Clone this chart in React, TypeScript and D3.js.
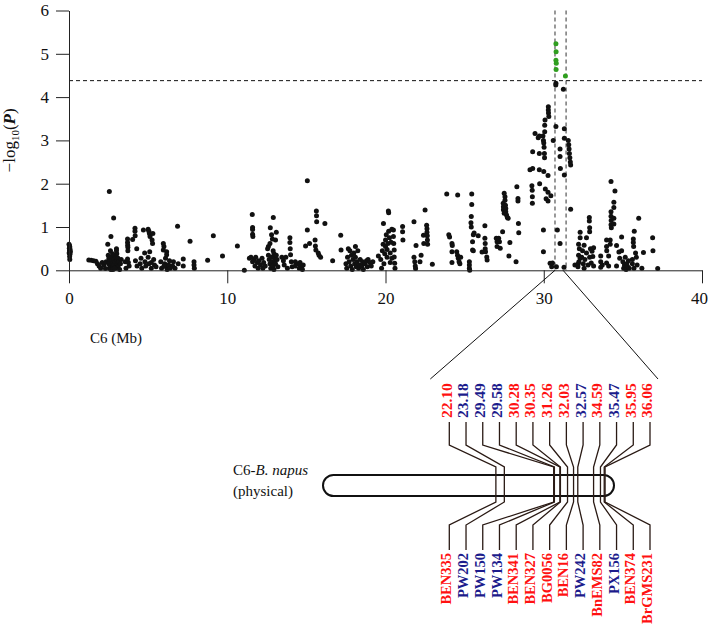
import { useEffect, useRef } from 'react';
import * as d3 from 'd3';

// Manhattan plot, chromosome C6
const xTicks = [0, 10, 20, 30, 40];
const yTicks = [0, 1, 2, 3, 4, 5, 6];
const threshold = 4.38;
const peakInterval = [30.71, 31.41];

// [position (Mb), -log10(P)]
const snps0to10: [number, number][] = [
  [0, 0.6], [0.03, 0.57], [0.05, 0.54], [0.02, 0.51], [0.07, 0.48], [0.03, 0.45], [0.09, 0.43], [0.01, 0.4], [0.06, 0.37], [0.04, 0.32], [0.05, 0.25],
  [1.25, 0.24], [1.4, 0.23], [1.55, 0.22], [1.7, 0.21], [1.8, 0.15], [1.9, 0.1], [2.0, 0.05], [2.1, 0.18], [2.2, 0.12], [2.3, 0.04], [2.35, 0.2],
  [2.45, 0.6], [2.55, 1.82], [2.65, 0.78], [2.82, 1.21], [2.48, 0.35], [2.52, 0.28], [2.58, 0.2], [2.5, 0.15], [2.6, 0.1], [2.55, 0.05], [2.65, 0.02],
  [2.68, 0.3], [2.7, 0.22], [2.75, 0.15], [2.8, 0.08], [2.85, 0.25], [2.85, 0.12], [2.9, 0.35], [2.92, 0.2], [2.95, 0.05], [3.0, 0.5], [3.0, 0.45],
  [3.02, 0.38], [3.0, 0.3], [3.05, 0.22], [3.06, 0.14], [3.1, 0.28], [3.1, 0.08], [3.15, 0.2], [3.2, 0.02], [3.25, 0.15], [3.3, 0.25], [2.62, 0.45],
  [2.75, 0.38], [2.78, 0.02], [2.88, 0.05],
  [3.55, 0.2], [3.6, 0.05], [3.7, 0.72], [3.7, 0.64], [3.71, 0.58], [3.72, 0.53], [3.72, 0.45], [3.7, 0.26], [3.75, 0.18], [3.8, 0.1], [4.02, 0.71],
  [4.17, 0.97], [4.17, 0.9], [4.18, 0.8], [4.28, 0.5], [4.2, 0.22], [4.3, 0.1],
  [4.5, 0.15], [4.55, 0.28], [4.6, 0.05], [4.7, 0.93], [4.78, 0.4], [4.8, 0.2], [4.85, 0.1], [5.0, 0.95], [5.05, 0.9], [5.08, 0.85], [5.12, 0.78],
  [5.1, 0.43], [5.0, 0.3], [5.05, 0.15], [5.2, 0.05], [5.25, 0.7], [5.28, 0.62], [5.3, 0.85], [5.35, 0.25], [5.4, 0.12], [5.5, 0.08], [5.2, 0.18],
  [5.8, 0.2], [5.85, 0.05], [5.96, 0.62], [5.96, 0.47], [6.0, 0.55], [6.05, 0.15], [6.1, 0.28], [6.15, 0.08], [6.17, 0.43], [6.17, 0.36], [6.2, 0.02],
  [6.3, 0.12], [6.35, 0.22], [6.4, 0.05], [6.0, 0.1],
  [6.55, 0.1], [6.6, 0.2], [6.7, 0.05], [6.86, 1.02], [6.9, 0.15], [7.22, 0.26], [7.22, 0.1], [7.65, 0.67], [7.9, 0.2], [7.9, 0.12], [7.92, 0.05],
  [8.76, 0.23], [9.12, 0.8], [9.7, 0.33],
];

const snps10to20: [number, number][] = [
  [10.64, 0.56], [11.08, 0.0], [11.58, 1.29], [11.6, 0.99], [11.6, 0.94], [11.6, 0.83], [11.62, 0.78], [11.4, 0.28], [11.5, 0.3], [11.6, 0.2],
  [11.7, 0.25], [11.75, 0.1], [11.8, 0.3], [11.9, 0.18], [11.95, 0.05], [12.0, 0.22], [12.1, 0.12], [12.2, 0.28], [12.25, 0.05], [12.3, 0.18], [12.4, 0.1],
  [12.55, 0.5], [12.6, 0.55], [12.7, 0.62], [12.72, 0.98], [12.8, 0.82], [12.91, 1.22], [12.85, 0.72], [13.1, 0.88], [13.05, 0.7], [12.9, 0.45],
  [12.95, 0.38], [13.0, 0.3], [12.6, 0.35], [12.65, 0.25], [12.7, 0.15], [12.75, 0.05], [12.8, 0.3], [12.85, 0.2], [12.9, 0.1], [12.95, 0.02],
  [13.0, 0.22], [13.05, 0.15], [13.1, 0.35], [13.15, 0.25], [13.2, 0.08],
  [13.45, 0.3], [13.55, 0.22], [13.6, 0.12], [13.7, 0.3], [13.8, 0.05], [13.96, 0.75], [13.96, 0.64], [13.98, 0.5], [14.0, 0.36], [14.05, 0.2],
  [14.1, 0.08], [14.3, 0.1], [14.3, 0.2], [14.5, 0.15], [14.55, 0.05], [14.6, 0.18], [14.7, 0.08], [14.75, 0.02], [14.8, 0.12],
  [14.95, 0.56], [15.06, 2.07], [15.06, 0.93], [15.2, 0.62], [15.55, 0.7], [15.57, 0.56], [15.6, 0.47], [15.63, 1.37], [15.64, 1.26], [15.65, 1.12],
  [15.75, 0.4], [15.8, 0.35], [15.9, 0.3], [16.17, 1.08], [16.66, 0.22], [17.17, 0.81], [17.19, 0.47],
  [17.5, 0.15], [17.55, 0.05], [17.6, 0.3], [17.65, 0.5], [17.7, 0.2], [17.75, 0.45], [17.8, 0.1], [17.85, 0.35], [17.9, 0.02], [17.95, 0.25],
  [18.0, 0.4], [18.05, 0.15], [18.1, 0.55], [18.1, 0.3], [18.15, 0.08], [18.2, 0.2], [18.25, 0.45], [18.3, 0.05], [18.35, 0.12], [18.4, 0.25],
  [18.5, 0.1], [18.55, 0.2], [18.6, 0.02], [18.7, 0.15], [18.8, 0.22], [18.85, 0.08], [18.9, 0.25], [19.0, 0.18], [19.1, 0.1], [19.2, 0.2],
  [19.55, 0.33], [19.7, 0.25], [19.75, 0.05], [19.8, 0.45], [19.85, 0.6], [19.87, 1.08], [19.9, 0.15], [19.95, 0.38], [20.0, 0.7], [20.0, 0.55],
  [20.05, 0.82], [20.1, 0.3], [20.1, 0.48], [20.15, 0.62], [20.18, 1.37], [20.2, 1.33], [20.2, 0.9], [20.25, 0.75], [20.3, 0.4], [20.3, 0.18],
  [20.35, 0.65], [20.4, 0.95], [20.4, 0.28],
];

const snps20to30: [number, number][] = [
  [20.5, 0.93], [20.5, 0.78], [20.52, 0.62], [20.55, 0.47], [20.55, 0.31], [20.58, 0.16], [20.6, 0.05],
  [21.08, 1.01], [21.08, 0.89], [21.1, 0.7], [21.8, 1.12], [21.93, 0.57], [21.8, 0.3], [21.85, 0.2], [21.88, 0.1], [21.9, 0.04], [22.18, 0.2],
  [22.25, 0.35], [22.4, 0.81], [22.42, 0.62], [22.5, 1.39], [22.6, 1.04], [22.62, 0.96], [22.62, 0.88], [22.64, 0.8], [22.65, 0.7], [22.66, 0.6], [22.96, 0.14],
  [23.87, 1.76], [24.0, 0.82], [24.05, 0.77], [24.2, 0.62], [24.22, 0.57], [24.2, 0.43], [24.2, 0.18], [24.5, 0.43], [24.55, 0.35], [24.56, 1.74],
  [24.6, 0.28], [24.65, 0.2], [24.7, 0.15], [24.75, 0.3],
  [25.3, 0.2], [25.3, 0.12], [25.3, 0.05], [25.32, 0.0], [25.45, 1.76], [25.45, 1.52], [25.42, 1.24], [25.4, 1.1], [25.42, 1.0], [25.6, 0.86],
  [25.55, 0.82], [25.5, 0.66], [25.5, 0.47], [25.55, 0.45], [25.86, 0.8], [26.1, 0.42], [26.28, 1.03], [26.28, 0.74], [26.3, 0.62], [26.3, 0.5],
  [26.32, 0.43], [26.4, 0.31], [26.42, 0.24],
  [27.0, 0.74], [27.05, 0.66], [27.05, 0.55], [27.15, 0.74], [27.2, 0.66], [27.25, 0.51], [27.4, 0.89], [27.44, 1.55], [27.45, 1.47], [27.45, 1.4],
  [27.5, 1.32], [27.5, 1.78], [27.55, 1.7], [27.55, 1.62], [27.58, 1.5], [27.6, 1.43], [27.6, 1.35], [27.65, 1.28], [27.7, 1.22], [27.75, 1.2],
  [27.86, 0.64], [27.8, 0.33], [28.25, 0.2], [28.3, 1.93], [28.37, 1.66], [28.37, 1.6], [28.4, 1.08], [28.42, 0.87],
  [29.13, 2.32], [29.3, 2.74], [29.25, 1.95], [29.27, 1.85], [29.28, 1.7], [29.28, 1.55], [29.3, 2.35], [29.45, 3.16], [29.65, 3.06], [29.72, 3.1],
  [29.72, 2.7], [29.72, 2.32], [29.74, 2.0], [29.98, 0.93], [29.98, 0.43], [29.95, 3.1], [29.98, 3.0], [30.0, 2.94], [30.02, 2.84], [30.04, 2.7],
  [30.05, 2.6], [30.06, 3.2], [30.06, 3.35], [30.08, 3.47], [30.0, 2.28], [30.1, 1.88], [30.15, 1.65], [30.29, 3.78], [30.29, 3.7], [30.3, 3.63],
  [30.32, 3.55], [30.27, 2.19], [30.27, 1.8], [30.27, 1.6], [30.45, 1.72], [30.4, 0.16], [30.5, 0.08], [30.55, 0.17], [30.6, 3.0],
];

const snps30to38: [number, number][] = [
  [30.77, 4.32], [30.76, 4.28], [31.24, 4.18], [30.77, 3.32], [30.86, 0.93], [30.8, 0.08], [31.03, 2.8], [31.03, 2.63], [31.05, 2.35], [31.03, 0.62],
  [31.28, 0.07], [31.3, 3.27], [31.3, 3.05], [31.3, 2.2], [31.55, 3.0], [31.58, 2.9], [31.6, 2.8], [31.62, 2.7], [31.65, 2.6], [31.68, 2.5],
  [31.7, 2.43], [31.7, 1.41],
  [31.97, 0.12], [32.18, 0.15], [32.16, 0.08], [32.22, 0.2], [32.2, 0.6], [32.25, 0.5], [32.3, 0.75], [32.3, 0.88], [32.2, 0.35], [32.3, 0.28],
  [32.45, 0.45], [32.5, 0.15], [32.55, 0.05], [32.55, 0.58], [32.88, 1.22], [32.88, 1.14], [32.9, 0.98], [32.9, 0.89], [32.7, 0.75], [32.95, 0.5],
  [33.05, 0.44], [33.1, 0.32], [33.15, 0.52], [33.0, 0.17], [33.15, 0.1], [32.4, 0.3], [32.6, 0.25], [32.7, 0.4], [32.8, 0.12], [32.9, 0.3],
  [33.6, 0.33], [33.6, 0.2], [33.7, 0.12], [33.6, 0.07], [33.97, 0.7], [33.97, 0.55], [33.98, 0.45], [34.1, 0.33], [33.97, 0.17], [34.1, 0.1],
  [34.25, 2.05], [34.5, 1.83], [34.43, 1.57], [34.43, 1.45], [34.25, 1.35], [34.25, 1.25], [34.26, 1.15], [34.25, 1.05], [34.27, 0.98],
  [34.43, 1.2], [34.43, 1.07], [34.2, 0.7], [34.2, 0.6], [34.6, 0.57], [34.92, 0.77], [34.75, 0.42], [34.92, 0.45], [34.8, 0.28], [34.6, 0.1],
  [35.0, 0.2], [35.05, 0.05], [35.1, 0.12], [35.15, 0.3], [35.2, 0.02], [35.25, 0.15], [35.3, 0.08], [35.35, 0.22], [35.4, 0.05],
  [35.66, 0.72], [35.66, 0.64], [35.68, 0.55], [35.72, 0.9], [35.6, 0.25], [35.6, 0.15], [35.7, 0.05], [35.8, 0.4], [35.85, 0.3], [35.9, 0.12],
  [36.0, 1.2], [36.3, 0.41], [36.2, 0.05], [36.88, 0.75], [36.9, 0.45], [37.2, 0.04],
];

// SNPs above the significance threshold (green)
const sigSnps: [number, number][] = [
  [30.77, 5.23], [30.78, 5.05], [30.77, 4.85], [30.79, 4.78], [30.78, 4.64], [31.37, 4.49],
];

// Physical map of the interval
const chromLength = 37.2;
const markerPos = [22.1, 23.18, 29.49, 29.58, 30.28, 30.35, 31.26, 32.03, 32.57, 34.59, 35.47, 35.95, 36.06];
const markerNames = ['BEN335', 'PW202', 'PW150', 'PW134', 'BEN341', 'BEN327', 'BG0056', 'BEN16', 'PW242', 'BnEMS82', 'PX156', 'BEN374', 'BrGMS231'];
const markerGroup = ['new', 'pub', 'pub', 'pub', 'new', 'new', 'new', 'new', 'pub', 'new', 'pub', 'new', 'new'];

const FONT = '"Liberation Serif", "Times New Roman", serif';
const groupColor: Record<string, string> = { new: '#ff1111', pub: '#1c1c8c' };
const lineColor = '#2a1a14';

export default function App() {
  const W = 709;
  const H = 626;
  const x = d3.scaleLinear().domain([0, 40]).range([69, 702]);
  const y = d3.scaleLinear().domain([0, 6]).range([270.3, 10.5]);

  const labelX = d3.scalePoint<string>().domain(markerNames).range([449.3, 650]);
  const chromX = d3.scaleLinear().domain([0, chromLength]).range([323, 614]);

  const xAxisRef = useRef<SVGGElement>(null);
  const yAxisRef = useRef<SVGGElement>(null);

  useEffect(() => {
    const gx = d3.select(xAxisRef.current!);
    gx.call(d3.axisBottom(x).tickValues(xTicks).tickFormat(d3.format('d')).tickSize(13).tickSizeOuter(0).tickPadding(9));
    gx.attr('font-family', FONT).attr('font-size', 17);
    gx.selectAll('path,line').attr('stroke', '#222');
    gx.selectAll('text').attr('fill', '#111');
    // keep the last label inside the page
    gx.selectAll<SVGTextElement, number>('text').filter((d) => d === 40).attr('dx', -3);

    const gy = d3.select(yAxisRef.current!);
    gy.call(d3.axisLeft(y).tickValues(yTicks).tickFormat(d3.format('d')).tickSize(13).tickSizeOuter(0).tickPadding(7));
    gy.attr('font-family', FONT).attr('font-size', 17);
    gy.selectAll('path,line').attr('stroke', '#222');
    gy.selectAll('text').attr('fill', '#111');
  }, []);

  const allSnps = [...snps0to10, ...snps10to20, ...snps20to30, ...snps30to38];

  const topLabelY = 418;
  const bottomLabelY = 553;

  return (
    <svg width={W} height={H} style={{ position: 'absolute', left: 0, top: 0, background: '#fff' }} fontFamily={FONT}>
      {/* threshold and peak interval */}
      <line x1={x(0)} x2={x(40)} y1={y(threshold)} y2={y(threshold)} stroke="#111" strokeDasharray="4,3" />
      {peakInterval.map((p, i) => (
        <line key={i} x1={x(p)} x2={x(p)} y1={y(6)} y2={y(0)} stroke="#333" strokeDasharray="4,3" />
      ))}

      {allSnps.map(([p, v], i) => (
        <circle key={i} cx={x(p)} cy={y(v)} r={2.5} fill="#111" />
      ))}
      {sigSnps.map(([p, v], i) => (
        <circle key={'s' + i} cx={x(p)} cy={y(v)} r={2.5} fill="#2f9e1f" />
      ))}

      <g ref={xAxisRef} transform={`translate(0,${y(0)})`} />
      <g ref={yAxisRef} transform={`translate(${x(0)},0)`} />

      <text transform={`translate(15,${(y(0) + y(6)) / 2}) rotate(-90)`} textAnchor="middle" fontSize={17} fill="#111">
        −log<tspan fontSize={11} dy={4}>10</tspan>
        <tspan dy={-4}>(</tspan>
        <tspan fontWeight="bold" fontStyle="italic">P</tspan>)
      </text>
      <text x={90} y={343} fontSize={15} fill="#111">C6 (Mb)</text>

      {/* expansion lines */}
      <line x1={x(peakInterval[0])} y1={y(0)} x2={labelX(markerNames[0])! - 19} y2={379} stroke="#111" strokeWidth={1} />
      <line x1={x(31.22)} y1={y(0)} x2={labelX(markerNames[markerNames.length - 1])! + 8} y2={379} stroke="#111" strokeWidth={1} />

      {/* chromosome */}
      <text x={233} y={475} fontSize={15} fill="#111">
        C6-<tspan fontStyle="italic">B. napus</tspan>
      </text>
      <text x={233} y={496} fontSize={15} fill="#111">(physical)</text>
      <rect x={chromX(0)} y={475} width={chromX(chromLength) - chromX(0)} height={21} rx={10.5} fill="#fff" stroke="#111" strokeWidth={2} />

      {markerNames.map((name, i) => {
        const lx = labelX(name)!;
        const cx = chromX(markerPos[i]);
        const d = `M${lx},422 V445 L${cx},467 V502 L${lx},525 V550`;
        return <path key={'c' + i} d={d} fill="none" stroke={lineColor} strokeWidth={1.3} />;
      })}

      {markerNames.map((name, i) => {
        const lx = labelX(name)! - 3;
        const col = groupColor[markerGroup[i]];
        return (
          <g key={'l' + i} fontWeight="bold" fontSize={14.5} fill={col}>
            <text transform={`translate(${lx},${topLabelY}) rotate(-90)`} dy="0.35em" textAnchor="start" fontSize={15.5}>
              {markerPos[i].toFixed(2)}
            </text>
            <text transform={`translate(${lx},${bottomLabelY}) rotate(-90)`} dy="0.35em" textAnchor="end">
              {name}
            </text>
          </g>
        );
      })}
    </svg>
  );
}
